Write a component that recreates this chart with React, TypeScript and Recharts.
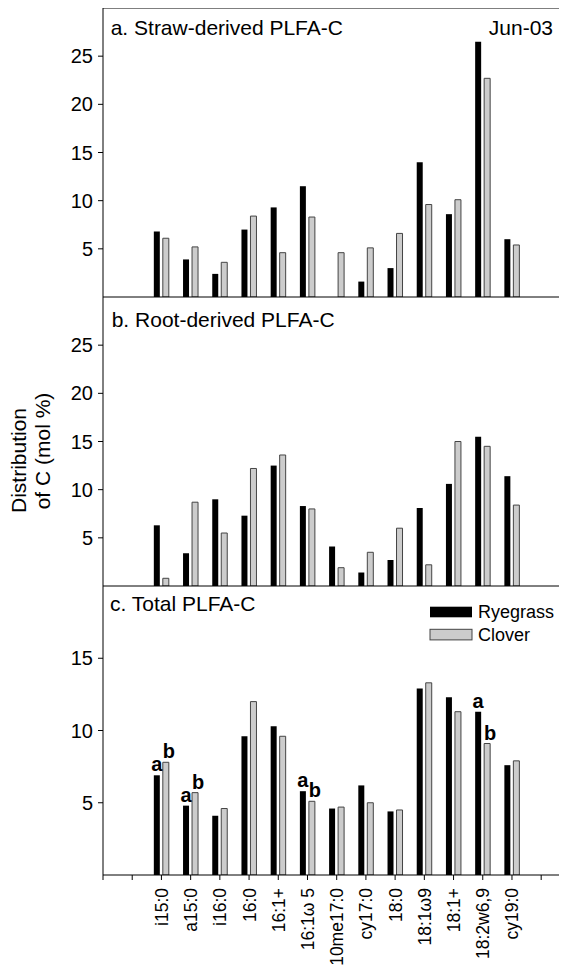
import React from 'react';
import { BarChart, Bar, XAxis, YAxis, ReferenceLine, LabelList } from 'recharts';

const categories = ["i15:0", "a15:0", "i16:0", "16:0", "16:1+", "16:1ω 5", "10me17:0", "cy17:0", "18:0", "18:1ω9", "18:1+", "18:2w6,9", "cy19:0"];
const leadingBlanks = 2;
const trailingBlanks = 2;

const strawRyegrass = [6.8, 3.9, 2.4, 7.0, 9.3, 11.5, 0, 1.6, 3.0, 14.0, 8.6, 26.5, 6.0];
const strawClover = [6.1, 5.2, 3.6, 8.4, 4.6, 8.3, 4.6, 5.1, 6.6, 9.6, 10.1, 22.7, 5.4];
const rootRyegrass = [6.3, 3.4, 9.0, 7.3, 12.5, 8.3, 4.1, 1.4, 2.7, 8.1, 10.6, 15.5, 11.4];
const rootClover = [0.8, 8.7, 5.5, 12.2, 13.6, 8.0, 1.9, 3.5, 6.0, 2.2, 15.0, 14.5, 8.4];
const totalRyegrass = [6.9, 4.8, 4.1, 9.6, 10.3, 5.8, 4.6, 6.2, 4.4, 12.9, 12.3, 11.3, 7.6];
const totalClover = [7.8, 5.7, 4.6, 12.0, 9.6, 5.1, 4.7, 5.0, 4.5, 13.3, 11.3, 9.1, 7.9];
const sigRyegrass = ["a", "a", "", "", "", "a", "", "", "", "", "", "a", ""];
const sigClover = ["b", "b", "", "", "", "b", "", "", "", "", "", "b", ""];

const yTicksAB = [5, 10, 15, 20, 25];
const yTicksC = [5, 10, 15];

const FONT = "'Liberation Sans', Arial, Helvetica, sans-serif";

function buildRows(rye: number[], clover: number[], withSig: boolean) {
  const rows: any[] = [];
  for (let i = 0; i < leadingBlanks; i++) rows.push({ name: `__l${i}` });
  categories.forEach((c, i) => {
    const r: any = { name: c, ryegrass: rye[i], clover: clover[i] };
    if (withSig) {
      r.sigR = sigRyegrass[i];
      r.sigC = sigClover[i];
    }
    rows.push(r);
  });
  for (let i = 0; i < trailingBlanks; i++) rows.push({ name: `__t${i}` });
  return rows;
}

const dataA = buildRows(strawRyegrass, strawClover, false);
const dataB = buildRows(rootRyegrass, rootClover, false);
const dataC = buildRows(totalRyegrass, totalClover, true);

const CHART_W = 577;
const Y_W = 95;
const MARGIN = { top: 10, right: 0, left: 0, bottom: 0 };

const XTick = (props: any) => {
  const { x, y, payload } = props;
  const v = String(payload.value);
  const label = v.startsWith('__') ? '' : v;
  return (
    <g transform={`translate(${x},${y})`}>
      <text transform="rotate(-90)" x={-8} y={6.5} textAnchor="end" fontSize={17.5} fill="#000" fontFamily={FONT}>
        {label}
      </text>
    </g>
  );
};

const sigRenderer = (dx: number) => (props: any) => {
  const { x, y, width, value } = props;
  if (!value) return null;
  return (
    <text x={Number(x) + Number(width) / 2 + dx} y={Number(y) - 4} textAnchor="middle" fontSize={20} fontWeight="bold" fill="#000" fontFamily={FONT}>
      {value}
    </text>
  );
};

function Panel(props: { data: any[]; max: number; ticks: number[]; bottomLabels: boolean; xAxisH: number; children?: any; sig?: boolean; topLine?: boolean }) {
  const { data, max, ticks, bottomLabels, xAxisH, children, sig, topLine } = props;
  const height = MARGIN.top + 289 + xAxisH;
  return (
    <BarChart width={CHART_W} height={height} data={data} margin={MARGIN} barSize={6} barGap={3}>
      <XAxis
        dataKey="name"
        interval={0}
        height={xAxisH}
        padding={{ left: -14.6, right: 0 }}
        axisLine={{ stroke: '#000', strokeWidth: 1 }}
        tickLine={{ stroke: '#000', strokeWidth: 1 }}
        tickSize={5}
        tickMargin={0}
        tick={bottomLabels ? <XTick /> : false}
      />
      <YAxis
        width={Y_W}
        domain={[0, max]}
        ticks={ticks}
        allowDataOverflow
        axisLine={{ stroke: '#000', strokeWidth: 1 }}
        tickLine={{ stroke: '#000', strokeWidth: 1 }}
        tickSize={5}
        tickMargin={5}
        tick={{ fontSize: 20, fill: '#000', fontFamily: FONT }}
      />
      {topLine ? <ReferenceLine y={max} stroke="#000" strokeWidth={1} /> : null}
      <Bar dataKey="ryegrass" fill="#000" isAnimationActive={false}>
        {sig ? <LabelList dataKey="sigR" content={sigRenderer(0)} /> : null}
      </Bar>
      <Bar dataKey="clover" fill="#cccccc" stroke="#444" strokeWidth={1} isAnimationActive={false}>
        {sig ? <LabelList dataKey="sigC" content={sigRenderer(3)} /> : null}
      </Bar>
      {children}
    </BarChart>
  );
}

export default function App() {
  return (
    <div style={{ position: 'relative', width: 559, height: 962, overflow: 'hidden', fontFamily: FONT, background: '#fff' }}>
      <div style={{ position: 'absolute', left: 0, top: -10 }}>
        <Panel data={dataA} max={30} ticks={yTicksAB} bottomLabels={false} xAxisH={10} topLine>
          <text x={102.7} y={37} fontSize={21} fill="#000" fontFamily={FONT}>a. Straw-derived PLFA-C</text>
          <text x={545} y={37} fontSize={21} fill="#000" textAnchor="end" fontFamily={FONT}>Jun-03</text>
        </Panel>
      </div>
      <div style={{ position: 'absolute', left: 0, top: 279 }}>
        <Panel data={dataB} max={30} ticks={yTicksAB} bottomLabels={false} xAxisH={10}>
          <text x={103.7} y={40.3} fontSize={21} fill="#000" fontFamily={FONT}>b. Root-derived PLFA-C</text>
        </Panel>
      </div>
      <div style={{ position: 'absolute', left: 0, top: 568 }}>
        <Panel data={dataC} max={20} ticks={yTicksC} bottomLabels xAxisH={110} sig>
          <text x={102} y={34.7} fontSize={21} fill="#000" fontFamily={FONT}>c. Total PLFA-C</text>
          <rect x={422} y={30.7} width={42} height={10.6} fill="#000" />
          <text x={470} y={41.7} fontSize={18} fill="#000" fontFamily={FONT}>Ryegrass</text>
          <rect x={422} y={53.3} width={42} height={10.6} fill="#cccccc" stroke="#444" strokeWidth={1} />
          <text x={470} y={65} fontSize={18} fill="#000" fontFamily={FONT}>Clover</text>
        </Panel>
      </div>
      <svg style={{ position: 'absolute', left: 0, top: 0 }} width={90} height={962}>
        <text transform="translate(18,452.5) rotate(-90)" textAnchor="middle" fontSize={21} fill="#000" fontFamily={FONT}>Distribution</text>
        <text transform="translate(42.4,443) rotate(-90)" textAnchor="middle" fontSize={21} fill="#000" fontFamily={FONT}>of  C (mol %)</text>
      </svg>
    </div>
  );
}
